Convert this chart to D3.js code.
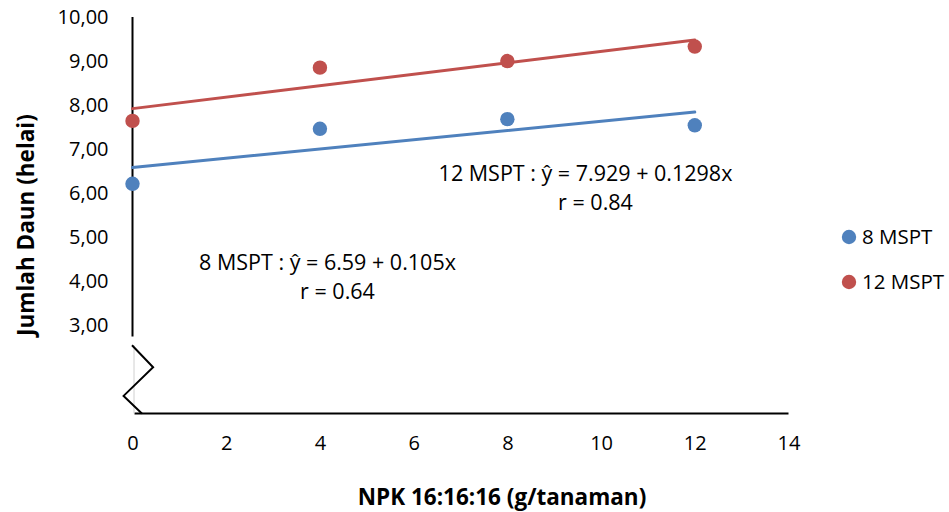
<!DOCTYPE html>
<html><head><meta charset="utf-8">
<script src="https://cdn.jsdelivr.net/npm/d3@7"></script>
<style>body{margin:0;background:#fff}svg{display:block}text{font-family:"Open Sans",sans-serif;fill:#000}</style>
</head><body><svg id="c" width="949" height="512"></svg>
<script>
const xValues = [0, 4, 8, 12];
const series8 = [6.22, 7.47, 7.69, 7.55];
const series12 = [7.65, 8.86, 9.01, 9.34];
const seriesNames = ["8 MSPT", "12 MSPT"];
const seriesColors = ["#4F81BD", "#C0504D"];
const trend8 = {a: 6.59, b: 0.105};
const trend12 = {a: 7.929, b: 0.1298};
const eqLabels = [["8 MSPT : \u0177 = 6.59 + 0.105x", "r = 0.64"], ["12 MSPT : \u0177 = 7.929 + 0.1298x", "r = 0.84"]];
const xTicks = [0, 2, 4, 6, 8, 10, 12, 14];
const yTicks = [3, 4, 5, 6, 7, 8, 9, 10];
const xTitle = "NPK 16:16:16 (g/tanaman)";
const yTitle = "Jumlah Daun (helai)";

const svg = d3.select("#c");
const x = d3.scaleLinear().domain([0, 14]).range([132.5, 788.5]);
const y = d3.scaleLinear().domain([1, 10]).range([413.5, 17.5]);
const fmt = v => d3.format(".2f")(v).replace(".", ",");

// x axis
const xa = svg.append("g").attr("transform", `translate(0,${y(1)})`)
  .call(d3.axisBottom(x).tickValues(xTicks).tickSize(0).tickPadding(22).tickFormat(d3.format("d")));
xa.select(".domain").attr("stroke", "#000").attr("stroke-width", 2.2).attr("d", `M${x(0)+2},0H${x(14)}`);
xa.selectAll("text").attr("font-size", 20).attr("font-family", "Open Sans");

// y axis (broken)
const ya = svg.append("g").attr("transform", `translate(${x(0)},0)`)
  .call(d3.axisLeft(y).tickValues(yTicks).tickSize(0).tickPadding(24).tickFormat(fmt));
ya.select(".domain").attr("stroke", "#000").attr("stroke-width", 2).attr("d", `M0,${y(10)-0.5}V${y(2.75)}`);
ya.selectAll("text").attr("font-size", 20).attr("font-family", "Open Sans");

// faint axis remnant under break
svg.append("line").attr("x1", x(0)+1.5).attr("x2", x(0)+1.5).attr("y1", y(2.55)).attr("y2", y(1))
  .attr("stroke", "#d0d0d0").attr("stroke-width", 1);
// zigzag break
const zz = [[x(0)-0.5, y(2.55)], [x(0.44), y(2.05)], [x(-0.19), y(1.4)], [x(0.2), y(1)]];
svg.append("path").attr("d", d3.line()(zz)).attr("fill", "none").attr("stroke", "#000").attr("stroke-width", 2);

// trend lines
const trends = [trend8, trend12];
trends.forEach((t, i) => {
  svg.append("line")
    .attr("x1", x(0)).attr("y1", y(t.a))
    .attr("x2", x(12)).attr("y2", y(t.a + t.b * 12))
    .attr("stroke", seriesColors[i]).attr("stroke-width", 3).attr("stroke-linecap", "round");
});

// points
[series8, series12].forEach((s, i) => {
  svg.append("g").selectAll("circle").data(s).join("circle")
    .attr("cx", (d, j) => x(xValues[j])).attr("cy", d => y(d)).attr("r", 7.2)
    .attr("fill", seriesColors[i]);
});

// equation labels
const eqPos = [[327.5, 262], [585.5, 173]];
eqLabels.forEach((lines, i) => {
  const g = svg.append("g").attr("transform", `translate(${eqPos[i][0]},${eqPos[i][1]})`);
  g.append("text").attr("text-anchor", "middle").attr("dy", "0.35em").attr("font-size", 21.5).text(lines[0]);
  g.append("text").attr("text-anchor", "middle").attr("x", 10).attr("y", 29).attr("dy", "0.35em").attr("font-size", 21.5).text(lines[1]);
});

// legend
seriesNames.forEach((n, i) => {
  const g = svg.append("g").attr("transform", `translate(849,${237 + i * 45})`);
  g.append("circle").attr("r", 7.2).attr("fill", seriesColors[i]);
  g.append("text").attr("x", 13).attr("dy", "0.35em").attr("font-size", 20.5).text(n);
});

// axis titles
svg.append("text").attr("x", 502).attr("y", 497).attr("dy", "0.35em").attr("text-anchor", "middle")
  .attr("font-size", 22.5).attr("font-weight", "bold").text(xTitle);
svg.append("text").attr("transform", "translate(26,225) rotate(-90)").attr("dy", "0.35em").attr("text-anchor", "middle")
  .attr("font-size", 22.5).attr("font-weight", "bold").text(yTitle);
</script></body></html>
